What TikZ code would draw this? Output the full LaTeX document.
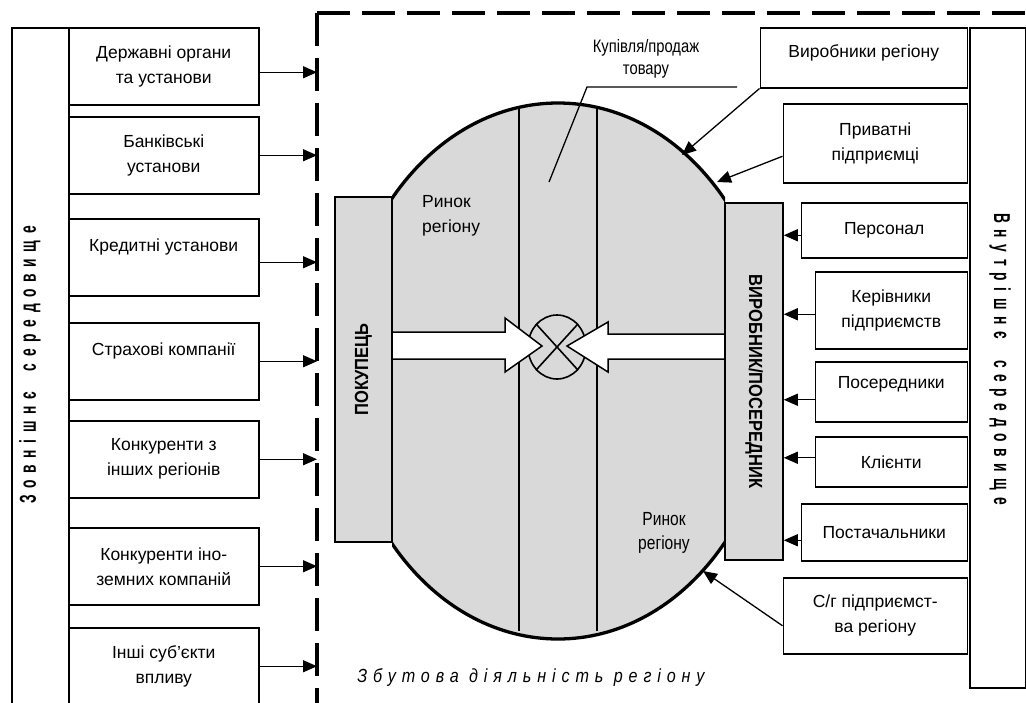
\documentclass[tikz,border=0pt]{standalone}
\usepackage{fontspec}
\usepackage{graphicx}
\setmainfont{Liberation Sans}
\newfontfamily\envfont[FakeStretch=0.6,LetterSpace=29]{Liberation Sans}
\newfontfamily\salesfont[FakeStretch=0.85,LetterSpace=31]{Liberation Sans}
\newfontfamily\sidefont[FakeStretch=0.87]{Liberation Sans}
\newfontfamily\narrowfont[FakeStretch=0.82]{Liberation Sans}
\usetikzlibrary{arrows.meta,shapes.geometric}
\definecolor{regiongray}{gray}{0.85}

\begin{document}
\begin{tikzpicture}[x=1pt,y=-1pt,
  every node/.style={font=\fontsize{17.5}{25}\selectfont},
  lbox/.style={draw,line width=1.5pt,fill=white,align=center,inner sep=2pt,
    minimum width=190pt,minimum height=77pt,anchor=north west},
  rbox/.style={draw,line width=1.5pt,fill=white,align=center,inner sep=2pt,anchor=north east},
  sidebox/.style={draw,line width=1.5pt,fill=regiongray,inner sep=0pt,
    font=\sidefont\bfseries\fontsize{19}{22}\selectfont},
  envtext/.style={font=\envfont\bfseries\fontsize{23}{26}\selectfont},
  ptr/.style={line width=1.3pt,-{Triangle[length=14pt,width=12pt]}},
  dashframe/.style={line width=3.5pt,dash pattern=on 33pt off 12pt}]
\clip (0,0) rectangle (1026,702);

% Outer environment
\node[draw,line width=1.5pt,minimum width=57pt,minimum height=703pt,anchor=north west] (zs) at (11,27) {};
\node[envtext] (zst) at (30,365) {\rotatebox{90}{Зовнішнє\ \ середовище}};

\node[lbox] (b1) at (68,27) {Державні органи\\та установи};
\node[lbox] (b2) at (68,116) {Банківські\\установи};
\node[lbox] (b3) at (68,218) {Кредитні установи\\~};
\node[lbox] (b4) at (68,322) {Страхові компанії\\~};
\node[lbox] (b5) at (68,420) {Конкуренти з\\інших регіонів};
\node[lbox] (b6) at (68,527) {Конкуренти іно-\\земних компаній};
\node[lbox] (b7) at (68,627) {Інші суб'єкти\\впливу};

% Region border
\draw[dashframe] (317,13) -- (1030,13);
\draw[dashframe] (317,13) -- (317,706);
\coordinate (dl) at (317,13);

\coordinate (a1) at ([yshift=-6pt]b1.east);
\draw[ptr] (a1) -- (a1 -| dl);
\draw[ptr] (b2.east) -- (b2.east -| dl);
\draw[ptr] ([yshift=-5pt]b3.east) -- ([yshift=-5pt]b3.east -| dl);
\draw[ptr] (b4.east) -- (b4.east -| dl);
\draw[ptr] (b5.east) -- (b5.east -| dl);
\draw[ptr] (b6.east) -- (b6.east -| dl);
\draw[ptr] (b7.east) -- (b7.east -| dl);

% Market of the region
\begin{scope}
\clip (392,0) rectangle (725,702);
\fill[regiongray] (558,371) ellipse [x radius=217,y radius=268];
\begin{scope}
\clip (558,371) ellipse [x radius=217,y radius=268];
\draw[line width=1.8pt] (519,90) -- (519,631);
\draw[line width=1.8pt] (597,90) -- (597,631);
\end{scope}
\draw[line width=3.3pt] (558,371) ellipse [x radius=217,y radius=268];
\end{scope}

\node[draw,ellipse,line width=1.6pt,fill=regiongray,minimum width=58pt,minimum height=64pt,inner sep=0pt] (xc) at (557,347) {};
\draw[line width=1.6pt] (xc.north west) -- (xc.south east) (xc.north east) -- (xc.south west);

% white arrows
\fill[white] (392,332) -- (505,332) -- (505,318) -- (542,346) -- (505,372) -- (505,359) -- (392,359) -- cycle;
\draw[line width=1.5pt] (392,332) -- (505,332) -- (505,318) -- (542,346) -- (505,372) -- (505,359) -- (392,359);
\fill[white] (725,334) -- (608,334) -- (608,322) -- (567,346) -- (608,372) -- (608,359) -- (725,359) -- cycle;
\draw[line width=1.5pt] (725,334) -- (608,334) -- (608,322) -- (567,346) -- (608,372) -- (608,359) -- (725,359);

\node[sidebox,minimum width=57pt,minimum height=345pt] (pk) at (363.5,369.5) {\rotatebox{90}{ПОКУПЕЦЬ}};
\node[sidebox,minimum width=58pt,minimum height=357pt] (vp) at (754,381.5) {\rotatebox{-90}{ВИРОБНИК/ПОСЕРЕДНИК}};

\node[align=left,anchor=west,inner sep=0pt] (rr1) at (422,215.5) {Ринок\\регіону};
\begin{scope}
\clip (600,480) rectangle (720,553);
\node[align=center,inner sep=0pt,font=\narrowfont\fontsize{19}{24}\selectfont] (rr2) at (664,533) {Ринок\\регіону};
\end{scope}

\node[align=center,font=\narrowfont\fontsize{18}{22}\selectfont] (kp) at (646,59) {Купівля/продаж\\товару};
\coordinate (kp1) at (737,87);
\coordinate (kp2) at (587,87);
\coordinate (kp3) at (549,182);
\draw[line width=1.3pt] (kp1) -- (kp2) -- (kp3);

\node[font=\salesfont\itshape\fontsize{19}{21}\selectfont] (zd) at (531,677) {Збутова діяльність регіону};

% Inner environment
\node[draw,line width=1.5pt,minimum width=56pt,minimum height=660pt,anchor=north west] (vs) at (969,27) {};
\node[envtext] (vst) at (1000,359) {\rotatebox{-90}{Внутрішнє\ \ середовище}};

\node[rbox,minimum width=207pt,minimum height=60pt,text height=12pt,text depth=13pt] (r1) at (968,27) {Виробники регіону};
\node[rbox,minimum width=184pt,minimum height=79pt] (r2) at (968,103) {Приватні\\підприємці};
\node[rbox,minimum width=166pt,minimum height=55pt] (r3) at (968,202) {Персонал};
\node[rbox,minimum width=152pt,minimum height=77pt] (r4) at (968,271) {Керівники\\підприємств};
\node[rbox,minimum width=152pt,minimum height=60pt,text height=12pt,text depth=19pt] (r5) at (968,361) {Посередники};
\node[rbox,minimum width=152pt,minimum height=50pt] (r6) at (968,436) {Клієнти};
\node[rbox,minimum width=166pt,minimum height=57pt] (r7) at (968,503) {Постачальники};
\node[rbox,minimum width=184pt,minimum height=76pt] (r8) at (968,577) {С/г підприємст-\\ва регіону};

\coordinate (e1) at (682,155);
\coordinate (e2) at (717,182);
\coordinate (e8) at (703,571);
\draw[ptr] (r1.south west) -- (e1);
\draw[ptr] ([yshift=-13pt]r2.west) -- (e2);
\draw[ptr] ([yshift=-10pt]r8.west) -- (e8);

\coordinate (a3) at ([yshift=-5pt]r3.west);
\coordinate (a4) at ([yshift=-4pt]r4.west);
\coordinate (a5) at ([yshift=-8pt]r5.west);
\coordinate (a6) at ([yshift=4pt]r6.west);
\coordinate (a7) at ([yshift=-8pt]r7.west);
\draw[ptr] (a3) -- (a3 -| vp.east);
\draw[ptr] (a4) -- (a4 -| vp.east);
\draw[ptr] (a5) -- (a5 -| vp.east);
\draw[ptr] (a6) -- (a6 -| vp.east);
\draw[ptr] (a7) -- (a7 -| vp.east);

\end{tikzpicture}
\end{document}
